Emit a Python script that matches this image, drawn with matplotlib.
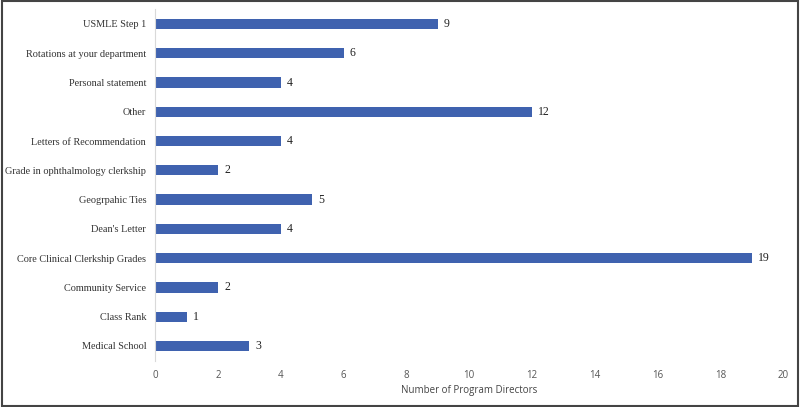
import matplotlib.pyplot as plt
from matplotlib.patches import Rectangle

# categories top to bottom as shown in the chart
criteria = ["USMLE Step 1", "Rotations at your department", "Personal statement",
            "Other", "Letters of Recommendation", "Grade in ophthalmology clerkship",
            "Geogrpahic Ties", "Dean's Letter", "Core Clinical Clerkship Grades",
            "Community Service", "Class Rank", "Medical School"]
counts = [9, 6, 4, 12, 4, 2, 5, 4, 19, 2, 1, 3]
xticks = list(range(0, 21, 2))

fig = plt.figure(figsize=(8, 4.07), dpi=100)
ax = fig.add_axes([0.194, 0.114, 0.785, 0.863])

ypos = list(range(len(criteria)))
ax.barh(ypos, counts, height=0.35, color='#3F62AF')
for y, v in zip(ypos, counts):
	ax.text(v + 0.2, y, str(v), va='center', ha='left',
			fontsize=8.5, family='Liberation Serif', color='#222222')

ax.set_ylim(len(criteria) - 0.5, -0.5)
ax.set_xlim(0, 20)
ax.set_yticks(ypos)
ax.set_yticklabels(criteria, family='Liberation Serif', fontsize=7.4, color='#333333')
ax.set_xticks(xticks)
ax.set_xticklabels([str(t) for t in xticks], family='Open Sans', fontsize=7, color='#555555')
ax.tick_params(length=0, pad=6.5)
ax.tick_params(axis='x', pad=7)
ax.set_xlabel('Number of Program Directors', family='Open Sans', fontsize=7,
			  color='#444444', labelpad=3)

for s in ['top', 'right', 'bottom']:
	ax.spines[s].set_visible(False)
ax.spines['left'].set_color('#D9D9D9')

# dark frame round the whole picture
fig.patches.append(Rectangle((0.002, 0.003), 0.996, 0.994, transform=fig.transFigure,
							 fill=False, edgecolor='#444444', linewidth=1.5))

fig.savefig('out.png', dpi=100)
